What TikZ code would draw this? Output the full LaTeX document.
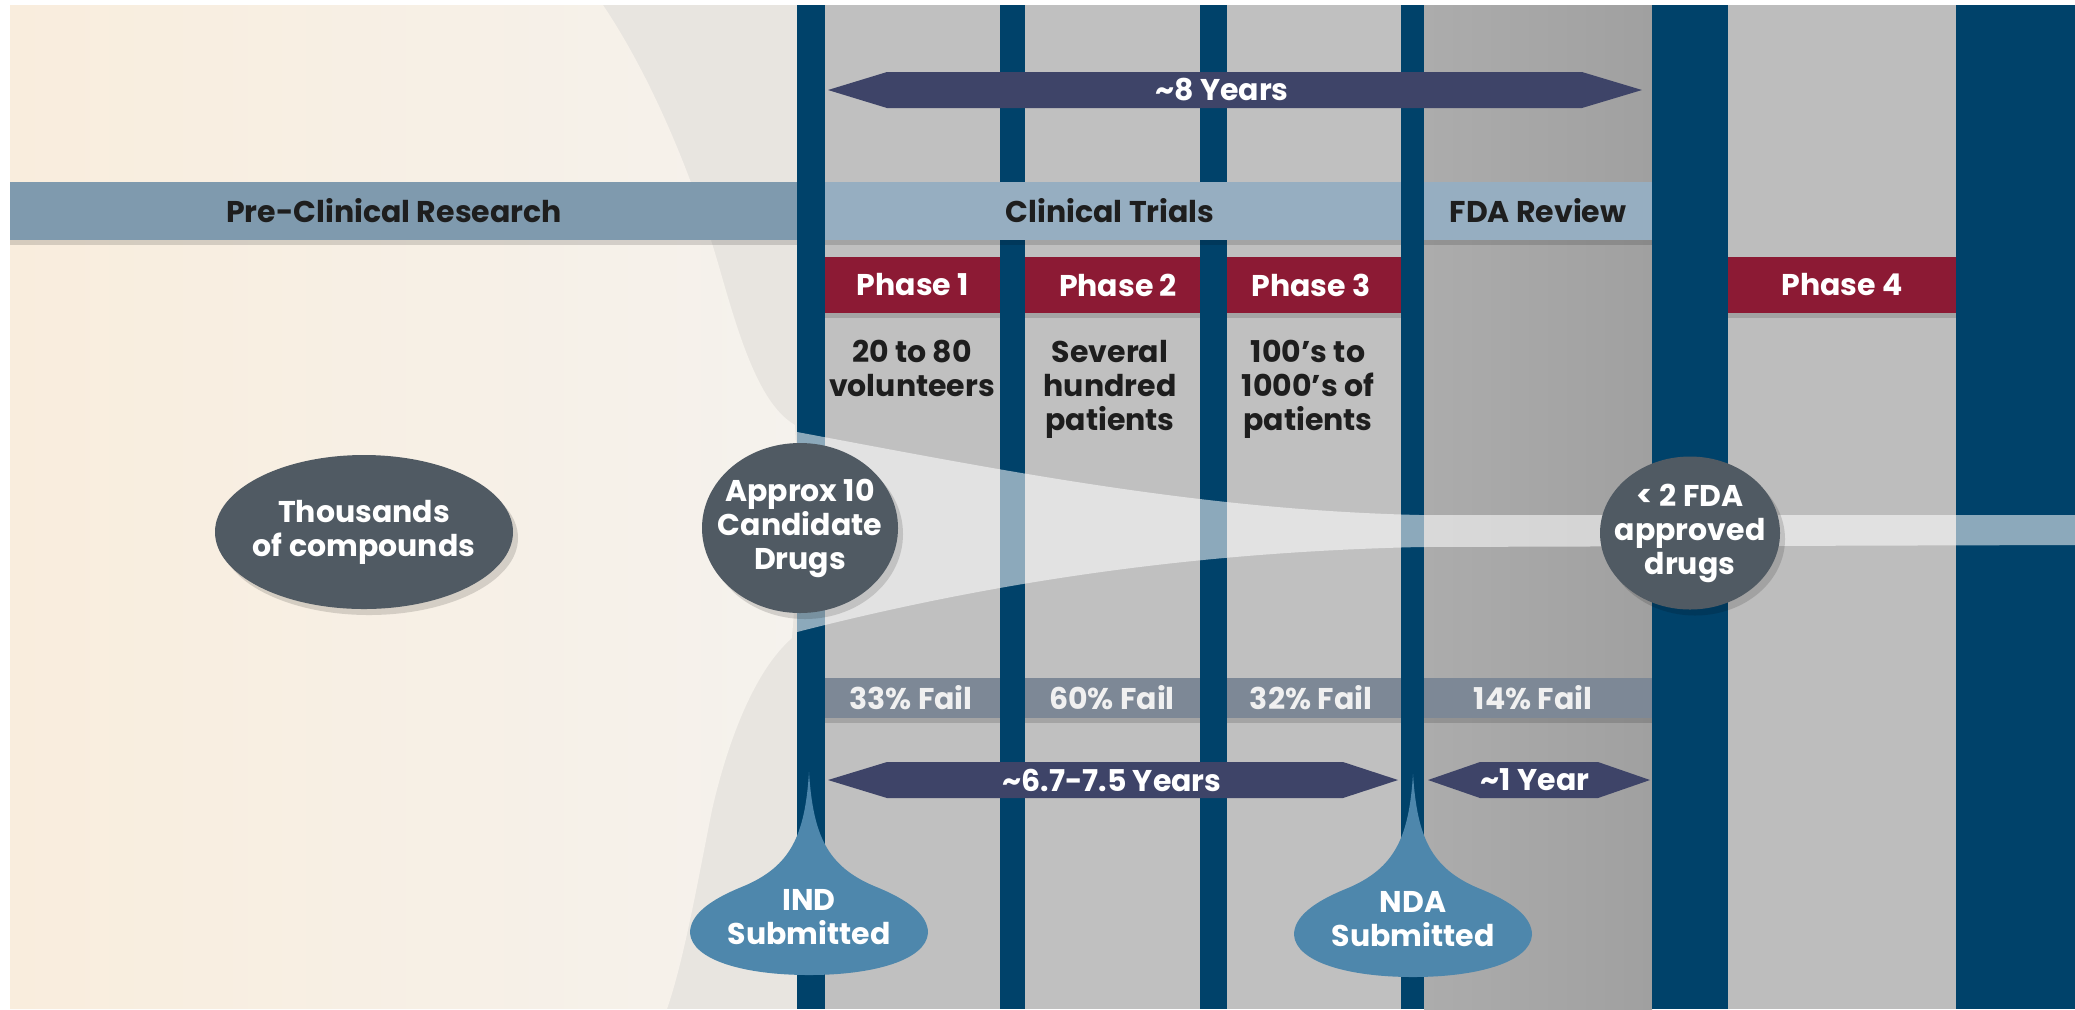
\documentclass[tikz,border=0pt]{standalone}
\usepackage{fontspec}
\setmainfont{Poppins}
\usetikzlibrary{shapes.geometric}
\definecolor{creamL}{RGB}{249,237,221}
\definecolor{creamR}{RGB}{245,242,237}
\definecolor{beige}{RGB}{232,229,224}
\definecolor{panel}{RGB}{192,192,192}
\definecolor{fdaL}{RGB}{172,172,172}
\definecolor{fdaR}{RGB}{160,160,160}
\definecolor{panelfour}{RGB}{189,189,189}
\definecolor{navy}{RGB}{0,66,106}
\definecolor{labA}{RGB}{127,154,174}
\definecolor{labB}{RGB}{150,174,193}
\definecolor{crimson}{RGB}{140,26,52}
\definecolor{failc}{RGB}{125,136,150}
\definecolor{arrowc}{RGB}{62,68,104}
\definecolor{ovalc}{RGB}{80,90,99}
\definecolor{dropc}{RGB}{78,135,172}
\definecolor{txtdark}{RGB}{30,30,30}
\tikzset{
  base/.style={font=\bfseries\fontsize{15}{17}\selectfont, inner sep=0pt, align=center},
  darktxt/.style={base, text=txtdark},
  lighttxt/.style={base, text=white},
  failtxt/.style={base, text=white!94!black},
  oval/.style={ellipse, fill=ovalc, inner sep=0pt},
  shadowfill/.style={fill=black, opacity=0.14},
  dropshape/.style={fill=dropc},
}
\begin{document}
\begin{tikzpicture}[x=0.5pt,y=-0.5pt]
\useasboundingbox (0,0) rectangle (2075,1009);
\fill[white] (0,0) rectangle (2075,1009);
% left background
\fill[beige] (10,5) rectangle (797,1009);
\shade[left color=creamL, right color=creamR]
  (10,5) -- (603,5) .. controls (660,90) and (700,200) .. (720,270)
  .. controls (740,340) and (760,405) .. (795,425) -- (800,528) -- (792,638)
  .. controls (755,670) and (728,740) .. (712,810)
  .. controls (698,880) and (684,960) .. (667,1009) -- (10,1009) -- cycle;
% panels
\fill[panel] (797,5) rectangle (1401,1009);
\shade[left color=fdaL, right color=fdaR] (1424,5) rectangle (1652,1009);
\fill[panelfour] (1728,5) rectangle (1956,1009);
% bars
\fill[navy] (797,5) rectangle (825,1009);
\fill[navy] (1000,5) rectangle (1025,1009);
\fill[navy] (1200,5) rectangle (1227,1009);
\fill[navy] (1401,5) rectangle (1424,1009);
\fill[navy] (1652,5) rectangle (1728,1009);
\fill[navy] (1956,5) rectangle (2075,1009);
% translucent band
\fill[white, opacity=0.55] (797,432) .. controls (1000,470) and (1200,510) .. (1420,515)
  -- (2075,515) -- (2075,545) -- (1420,547)
  .. controls (1200,552) and (1000,580) .. (797,632) -- cycle;
% label bars
\fill[shadowfill] (10,240) rectangle (797,245);
\fill[shadowfill] (825,240) rectangle (1401,245);
\fill[shadowfill] (1424,240) rectangle (1652,245);
\fill[labA] (10,182) rectangle (797,240);
\fill[labB] (825,182) rectangle (1401,240);
\fill[labB] (1424,182) rectangle (1652,240);
\node[darktxt] (pre) at (394,211) {Pre-Clinical Research};
\node[darktxt] (clin) at (1110,211) {Clinical Trials};
\node[darktxt] (fda) at (1538,211) {FDA Review};
% phase boxes
\fill[shadowfill] (825,313) rectangle (1000,318);
\fill[shadowfill] (1025,313) rectangle (1200,318);
\fill[shadowfill] (1227,313) rectangle (1401,318);
\fill[shadowfill] (1728,313) rectangle (1956,318);
\fill[crimson] (825,257) rectangle (1000,313);
\fill[crimson] (1025,257) rectangle (1200,313);
\fill[crimson] (1227,257) rectangle (1401,313);
\fill[crimson] (1728,257) rectangle (1956,313);
\node[lighttxt] (p1) at (913,285) {Phase 1};
\node[lighttxt] (p2) at (1118,285) {Phase 2};
\node[lighttxt] (p3) at (1311,285) {Phase 3};
\node[lighttxt] (p4) at (1842,285) {Phase 4};
% descriptions
\node[darktxt, anchor=north] (d1) at (912,340) {20 to 80\\volunteers};
\node[darktxt, anchor=north] (d2) at (1110,340) {Several\\hundred\\patients};
\node[darktxt, anchor=north] (d3) at (1308,340) {100's to\\1000's of\\patients};
% fail bars
\fill[shadowfill] (825,718) rectangle (1000,723);
\fill[shadowfill] (1025,718) rectangle (1200,723);
\fill[shadowfill] (1227,718) rectangle (1401,723);
\fill[shadowfill] (1424,718) rectangle (1652,723);
\fill[failc] (825,678) rectangle (1000,718);
\fill[failc] (1025,678) rectangle (1200,718);
\fill[failc] (1227,678) rectangle (1401,718);
\fill[failc] (1424,678) rectangle (1652,718);
\node[failtxt] (f1) at (911,698) {33\% Fail};
\node[failtxt] (f2) at (1112,698) {60\% Fail};
\node[failtxt] (f3) at (1311,698) {32\% Fail};
\node[failtxt] (f4) at (1533,698) {14\% Fail};
% arrows
\fill[arrowc] (828,90) -- (887,72) -- (1582,72) -- (1642,90) -- (1582,108) -- (887,108) -- cycle;
\node[lighttxt] (y8) at (1222,90) {\textasciitilde 8 Years};
\fill[arrowc] (828,780) -- (887,762) -- (1343,762) -- (1398,780) -- (1343,798) -- (887,798) -- cycle;
\node[lighttxt] (y67) at (1112,780) {\textasciitilde 6.7-7.5 Years};
\fill[arrowc] (1428,780) -- (1480,762) -- (1598,762) -- (1650,780) -- (1598,798) -- (1480,798) -- cycle;
\node[lighttxt] (y1) at (1535,780) {\textasciitilde 1 Year};
% ovals
\fill[shadowfill] (369,538) ellipse [x radius=74.5pt, y radius=38.5pt];
\fill[shadowfill] (805,534) ellipse [x radius=49pt, y radius=42.5pt];
\fill[shadowfill] (1695,539) ellipse [x radius=45pt, y radius=38.25pt];
\node[oval, minimum width=149pt, minimum height=77pt] (thou) at (364,532) {};
\node[lighttxt] at (thou) {Thousands\\of compounds};
\node[oval, minimum width=98pt, minimum height=85pt] (cand) at (800,528) {};
\node[lighttxt] at (cand) {Approx 10\\Candidate\\Drugs};
\node[oval, minimum width=90pt, minimum height=76.5pt] (appr) at (1690,533) {};
\node[lighttxt] at (appr) {< 2 FDA\\approved\\drugs};
% drops
\foreach \cx/\dy/\nm/\tx in {809/0/ind/IND, 1413/2/nda/NDA}{
  \begin{scope}[shift={(\cx,\dy)}]
  \fill[dropshape] (0,772) .. controls (4,835) and (18,866) .. (65,886)
    .. controls (100,900) and (119,915) .. (119,933)
    .. controls (117,960) and (65,975) .. (0,975)
    .. controls (-65,975) and (-117,960) .. (-119,933)
    .. controls (-119,915) and (-100,900) .. (-65,886)
    .. controls (-18,866) and (-4,835) .. (0,772) -- cycle;
  \node[lighttxt] (\nm) at (0,917) {\tx\\Submitted};
  \end{scope}
}
\end{tikzpicture}
\end{document}
